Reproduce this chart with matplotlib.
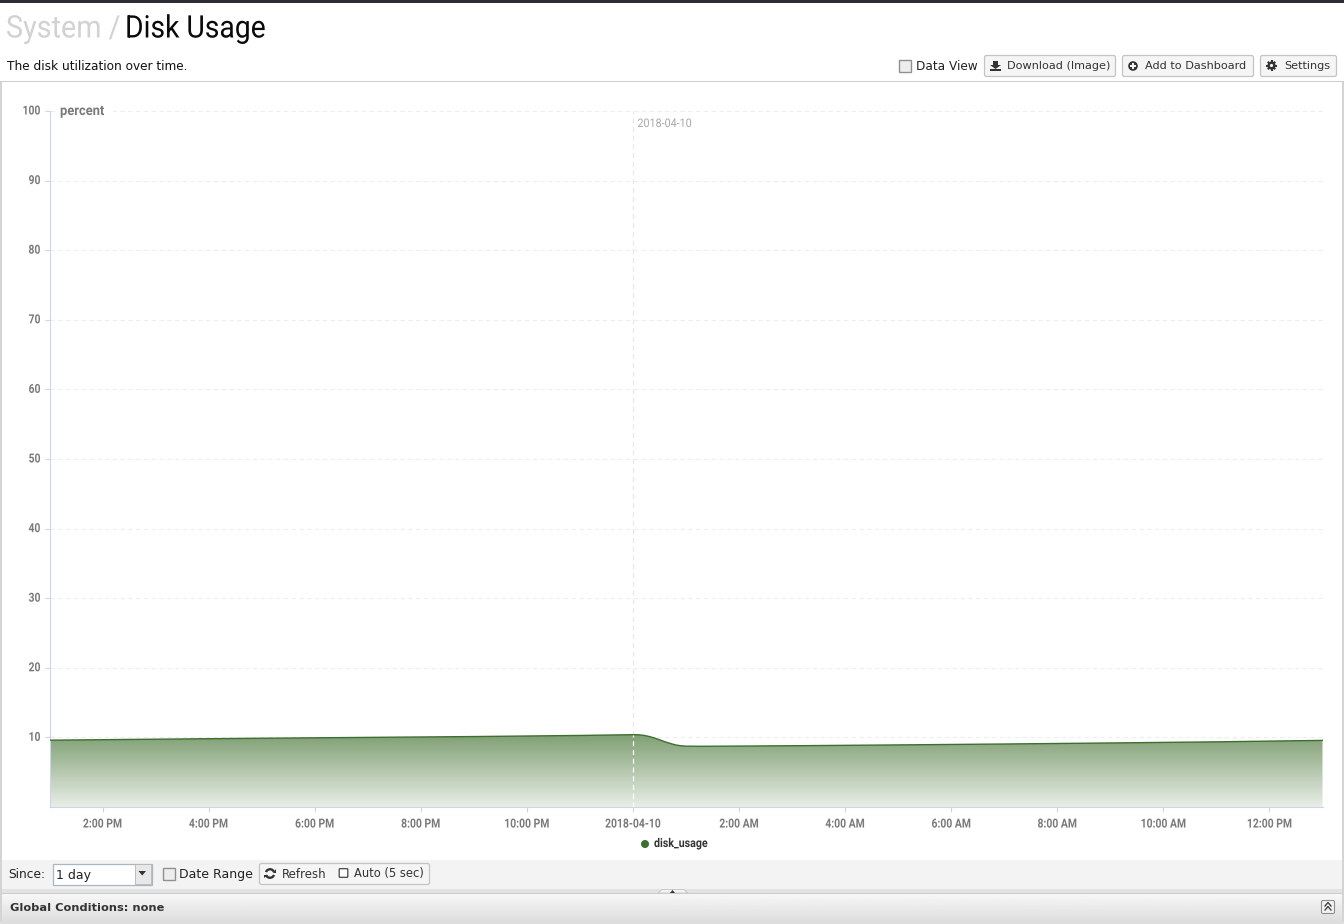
import datetime as dt
import numpy as np
import matplotlib
matplotlib.use("Agg")
import matplotlib.pyplot as plt
import matplotlib.dates as mdates
from matplotlib.patches import Rectangle, FancyBboxPatch, Circle, Polygon, Arc
from matplotlib.patheffects import AbstractPathEffect
from matplotlib.transforms import Affine2D

W, H = 1344, 924
COND = 'Roboto'


class Condense(AbstractPathEffect):
    """Narrow a real text horizontally (no condensed face is installed)."""
    def __init__(self, sx, anchor='left'):
        super().__init__()
        self.sx, self.anchor = sx, anchor

    def draw_path(self, renderer, gc, tpath, affine, rgbFace=None):
        e = tpath.get_extents()
        a = {'left': 0.0, 'center': (e.x0 + e.x1) / 2, 'right': e.x1}[self.anchor]
        tr = Affine2D().translate(-a, 0).scale(self.sx, 1).translate(a, 0) + affine
        renderer.draw_path(gc, tpath, tr, rgbFace)


# ---- data ----
start = dt.datetime(2018, 4, 9, 13, 0)
hours = [0, 2, 4, 6, 8, 10, 11, 11.1, 11.2, 11.3, 11.4, 11.5, 11.6, 11.7, 11.8, 11.9, 12.0, 12.3, 14, 16, 18, 20, 22, 24]
usage = [9.6, 9.74, 9.88, 10.0, 10.12, 10.28, 10.39, 10.38, 10.3, 10.14, 9.93, 9.66, 9.38, 9.14, 8.92, 8.8, 8.74, 8.72, 8.8, 8.92, 9.05, 9.2, 9.36, 9.57]
y_ticks = [10, 20, 30, 40, 50, 60, 70, 80, 90, 100]
x_tick_hours = [1, 3, 5, 7, 9, 11, 13, 15, 17, 19, 21, 23]
x_tick_labels = ['2:00 PM', '4:00 PM', '6:00 PM', '8:00 PM', '10:00 PM', '2018-04-10',
                 '2:00 AM', '4:00 AM', '6:00 AM', '8:00 AM', '10:00 AM', '12:00 PM']
series_name = 'disk_usage'
axis_name = 'percent'

times = [start + dt.timedelta(hours=h) for h in hours]
tick_times = [start + dt.timedelta(hours=h) for h in x_tick_hours]

GREEN = '#3d6f2f'
GRID = '#eeeeee'
AXIS = '#ccd6eb'
TICKC = '#7a7a7a'
DARK = '#333333'

fig = plt.figure(figsize=(W / 100, H / 100), dpi=100, facecolor='white')

# page chrome, in pixel coordinates
bg = fig.add_axes([0, 0, 1, 1], zorder=0)
bg.set_xlim(0, W); bg.set_ylim(H, 0); bg.axis('off')
def rect(x, y, w, h, c, **k):
    bg.add_patch(Rectangle((x, y), w, h, fc=c, ec='none', **k))
rect(0, 0, W, 2.5, '#2b2d33')
rect(0, 81, W, 1.4, '#cfcfcf')
rect(0, 82, 2, 842, '#d4d4d4')
rect(1342, 82, 2, 842, '#d4d4d4')
rect(2, 860, 1340, 29, '#f3f3f3')
rect(2, 889, 1340, 4, '#e2e2e2')
rect(2, 893, 1340, 1, '#cccccc')
grad = np.linspace(0.97, 0.87, 32).reshape(-1, 1)
bg.imshow(grad, extent=(2, 1342, 921, 894), cmap='gray', vmin=0, vmax=1, aspect='auto', zorder=1)
bg.set_xlim(0, W); bg.set_ylim(H, 0)
rect(0, 921, W, 3, '#dddddd', zorder=2)

def label(x, y, s, fs, **k):
    k.setdefault('color', '#222222')
    bg.text(x, y, s, fontsize=fs, va='center', ha='left', zorder=6, family='DejaVu Sans', **k)
def button(x, y, w, h, s, tx, fs=8.1):
    bg.add_patch(FancyBboxPatch((x + 2.5, y + 2.5), w - 5, h - 5, boxstyle='round,pad=2', fc='#f5f5f5', ec='#c4c4c4', lw=0.9, zorder=3))
    label(tx, y + h / 2 + 0.3, s, fs, color=DARK)
def checkbox(x, y, s=12):
    bg.add_patch(Rectangle((x, y), s, s, fc='#eeeeee', ec='#909090', lw=1.0, zorder=3))

# header text
t1 = bg.text(6, 29, 'System /', fontsize=22.4, color='#d2d2d2', va='center', ha='left', family=COND)
t1.set_path_effects([Condense(0.925)])
t2 = bg.text(125, 29, 'Disk Usage', fontsize=22.4, color='#0a0a0a', va='center', ha='left', family=COND)
t2.set_path_effects([Condense(0.91)])
label(7, 66.3, 'The disk utilization over time.', 8.72, color='#111111')

checkbox(899, 60)
label(916, 66.3, 'Data View', 8.7)
button(984, 55, 132, 22, 'Download (Image)', 1007)
button(1122, 55, 132, 22, 'Add to Dashboard', 1145)
button(1260, 55, 77, 22, 'Settings', 1284)
# download icon
bg.add_patch(Polygon([[993, 61], [998, 61], [998, 65], [1001, 65], [995.5, 69], [990, 65], [993, 65]], fc=DARK, ec='none', zorder=5))
bg.add_patch(Rectangle((990, 68.5), 11, 2.5, fc=DARK, ec='none', zorder=5))
# add icon
bg.add_patch(Circle((1133, 66), 4.8, fc=DARK, ec='none', zorder=5))
bg.add_patch(Rectangle((1130, 65.3), 6, 1.4, fc='#f5f5f5', ec='none', zorder=6))
bg.add_patch(Rectangle((1132.3, 63), 1.4, 6, fc='#f5f5f5', ec='none', zorder=6))
# settings icon
bg.add_patch(Circle((1271.5, 65.5), 4.0, fc=DARK, ec='none', zorder=5))
for a in np.deg2rad(np.arange(0, 180, 45)):
    c, s = np.cos(a) * 5.3, np.sin(a) * 5.3
    bg.plot([1271.5 - c, 1271.5 + c], [65.5 - s, 65.5 + s], color=DARK, lw=1.5, zorder=5, solid_capstyle='butt')
bg.add_patch(Circle((1271.5, 65.5), 1.6, fc='#f5f5f5', ec='none', zorder=6))

# bottom toolbar
label(8, 874.2, 'Since:', 8.8)
bg.add_patch(Rectangle((52.5, 863.5), 99, 21, fc='white', ec='#a9b4c4', lw=0.9, zorder=3))
bg.add_patch(Rectangle((134.5, 864), 16.5, 20, fc='#e8e8e8', ec='#b4b4b4', lw=0.6, zorder=4))
bg.add_patch(Polygon([[138.5, 871], [146, 871], [142.2, 875.5]], fc=DARK, ec='none', zorder=5))
label(56, 875, '1 day', 9.0)
checkbox(163, 868)
label(179, 874.2, 'Date Range', 9.0)
button(259, 863, 171, 22, '', 282)
bg.add_patch(Rectangle((332.5, 863.5), 0.8, 21, fc='#c4c4c4', ec='none', zorder=5))
label(282, 874, 'Refresh', 8.5, color=DARK)
label(354, 874, 'Auto (5 sec)', 8.3, color=DARK)
bg.add_patch(Arc((270, 873.5), 8.5, 8.5, theta1=200, theta2=340, ec=DARK, lw=1.7, zorder=5))
bg.add_patch(Arc((270, 873.5), 8.5, 8.5, theta1=20, theta2=160, ec=DARK, lw=1.7, zorder=5))
bg.add_patch(Polygon([[272.5, 872.5], [276, 872.5], [276, 869]], fc=DARK, ec='none', zorder=5))
bg.add_patch(Polygon([[267.5, 874.5], [264, 874.5], [264, 878]], fc=DARK, ec='none', zorder=5))
bg.add_patch(FancyBboxPatch((340, 869.5), 7, 7, boxstyle='round,pad=0.8', fc='white', ec='#444444', lw=0.9, zorder=5))
bg.add_patch(Polygon([[658, 893], [688, 893], [684, 889.5], [662, 889.5]], fc='#f3f3f3', ec='#c9c9c9', lw=0.7, zorder=5))
bg.add_patch(Polygon([[670, 893], [675, 893], [672.5, 890]], fc=DARK, ec='none', zorder=6))
label(10, 907.6, 'Global Conditions: none', 8.2, fontweight='bold', color=DARK)
bg.add_patch(FancyBboxPatch((1323, 902), 10, 10, boxstyle='round,pad=1.5', fc='#f2f2f2', ec='#8e8e8e', lw=0.8, zorder=5))
for off in (0, 4):
    bg.plot([1325, 1328, 1331], [906 + off, 902.5 + off, 906 + off], color='#444444', lw=1.0, zorder=6)

# chart axes: the plot box spans x 49.5..1322.5, y 111..807 px
L, R, T, B = 49.5, 1322.5, 111, 807
ax = fig.add_axes([L / W, 1 - B / H, (R - L) / W, (B - T) / H], zorder=2)
ax.patch.set_alpha(0)
for s in ('top', 'right'):
    ax.spines[s].set_visible(False)
for s in ('left', 'bottom'):
    ax.spines[s].set_color(AXIS)
    ax.spines[s].set_linewidth(0.8)

ax.set_yticks(y_ticks)
ax.set_xticks(tick_times)
ax.set_xticklabels(x_tick_labels)
ax.tick_params(axis='x', length=3.6, width=0.8, color=AXIS, pad=4, labelcolor=TICKC, labelsize=9)
ax.tick_params(axis='y', length=3.6, width=0.8, color=AXIS, pad=2.8, labelcolor=TICKC, labelsize=9)
for t in ax.get_xticklabels():
    t.set_family(COND); t.set_fontweight('bold'); t.set_path_effects([Condense(0.83, 'center')])
for t in ax.get_yticklabels():
    t.set_family(COND); t.set_fontweight('bold'); t.set_path_effects([Condense(0.83, 'right')])
    t.set_verticalalignment('center')
ax.grid(axis='y', color=GRID, lw=0.8, ls=(0, (4, 3)), zorder=0)

# filled area with vertical gradient, plus the line
xn = mdates.date2num(times)
cmap = matplotlib.colors.LinearSegmentedColormap.from_list('g', ['#e9eee7', '#7f9f73'])
im = ax.imshow(np.linspace(1, 0, 256).reshape(-1, 1), extent=(xn[0], xn[-1], 0, max(usage)), cmap=cmap,
               aspect='auto', origin='upper', zorder=2)
poly = ax.fill_between(times, usage, 0, color='none')
im.set_clip_path(poly.get_paths()[0], transform=ax.transData)
ax.set_xlim(start, start + dt.timedelta(hours=24))
ax.set_ylim(0, 100)
ax.plot(times, usage, color=GREEN, lw=1.0, zorder=3)

# plot line at midnight with its label
mid = start + dt.timedelta(hours=11)
ax.axvline(mid, ymin=max(usage) / 100, color='#e8e8e8', lw=0.9, ls=(0, (4, 3)), zorder=1)
ax.plot([mid, mid], [0, max(usage)], color='white', lw=0.9, ls=(0, (4, 3)), zorder=4)
d = ax.annotate('2018-04-10', (mid, 100), xytext=(4.5, -12.5), textcoords='offset pixels', fontsize=8.5,
                color='#a8a8a8', va='center', family=COND)
d.set_path_effects([Condense(0.91)])
n = ax.annotate(axis_name, (start, 100), xytext=(10.5, 0), textcoords='offset pixels', fontsize=10,
                fontweight='bold', color=TICKC, va='center', family=COND, annotation_clip=False,
                bbox=dict(fc='white', ec='none', pad=1.5))
n.set_path_effects([Condense(0.93)])

# legend
bg.add_patch(Circle((645, 844), 4, fc=GREEN, ec='none', zorder=5))
leg = bg.text(654, 843.5, series_name, fontsize=8.8, fontweight='bold', color=DARK, va='center', family=COND)
leg.set_path_effects([Condense(0.87)])

fig.savefig('out.png', dpi=100, facecolor='white')
